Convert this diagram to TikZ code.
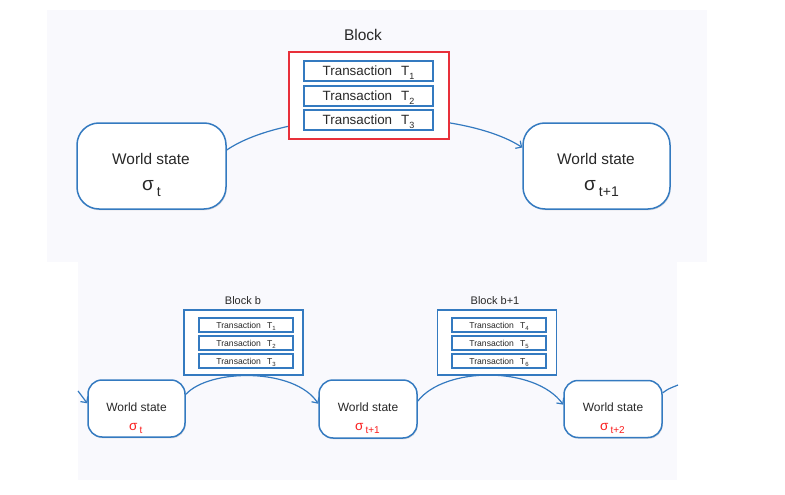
\documentclass[tikz,border=0pt]{standalone}
\usepackage{fontspec}
\setmainfont{Liberation Sans}
\usetikzlibrary{arrows.meta,shadows}
\definecolor{wsblue}{RGB}{52,122,192}
\definecolor{blockred}{RGB}{232,48,58}
\definecolor{sigred}{RGB}{250,30,30}
\definecolor{panelbg}{RGB}{249,249,253}
\definecolor{txtcol}{RGB}{40,40,40}
\newcommand{\fs}[1]{\fontsize{#1}{#1}\selectfont}
\tikzset{
  shad/.style={drop shadow={opacity=0.22, shadow xshift=0.8pt, shadow yshift=-1.3pt}},
  bigws/.style={draw=wsblue, line width=1.5pt, fill=white, rounded corners=22pt, inner sep=0pt, shad},
  smallws/.style={draw=wsblue, line width=1.5pt, fill=white, rounded corners=14pt, inner sep=0pt, shad},
  redblock/.style={draw=blockred, line width=1.8pt, fill=white, inner sep=0pt, minimum width=160pt, minimum height=87pt, shad},
  blueblock/.style={draw=wsblue, line width=1.3pt, fill=white, inner sep=0pt, minimum width=119pt, minimum height=65pt},
  bigtx/.style={draw=wsblue, line width=1.7pt, fill=white, inner sep=0pt, minimum width=129pt, minimum height=20pt, text height=9.6pt, text depth=0pt, text=txtcol, font=\fs{13.4}, shad},
  smalltx/.style={draw=wsblue, line width=1.3pt, fill=white, inner sep=0pt, minimum width=94pt, minimum height=14pt, text height=6.2pt, text depth=0pt, text=txtcol, font=\fs{8.6}},
  lbl/.style={inner sep=0pt, text=txtcol},
  conn/.style={draw=wsblue, line width=1.2pt, -{Straight Barb[length=4.5pt,width=9pt]}},
  plainconn/.style={draw=wsblue, line width=1.2pt}
}
\newcommand{\bigT}[1]{Transaction\hspace{9pt}T\raisebox{-4pt}{\fs{9}#1}}
\newcommand{\smallT}[1]{Transaction\hspace{6pt}T\raisebox{-2.5pt}{\fs{6}#1}}
\begin{document}
\begin{tikzpicture}[x=1pt,y=-1pt]
\useasboundingbox (0,0) rectangle (785,495);
\fill[panelbg] (47,10) rectangle (707,262);
\fill[panelbg] (78,262) rectangle (677,480);

% ---------- top diagram ----------
\node[bigws, minimum width=149pt, minimum height=86pt] (tws1) at (151.5,166) {};
\node[bigws, minimum width=147pt, minimum height=86pt] (tws2) at (596.5,166) {};
\node[lbl, anchor=base, font=\fs{15.4}] (tws1t) at (151,164) {World state};
\node[lbl, anchor=base west] (tws1s) at (142,190) {{\fs{19}σ}\hspace{3pt}\raisebox{-6pt}{\fs{14}t}};
\node[lbl, anchor=base, font=\fs{15.4}] (tws2t) at (596,164) {World state};
\node[lbl, anchor=base west] (tws2s) at (584,190) {{\fs{19}σ}\hspace{3pt}\raisebox{-6pt}{\fs{14}t+1}};

\draw[conn] (tws1.12) .. controls (290,107) and (460,107) .. (tws2.166);

\node[lbl, anchor=base, font=\fs{15.5}] (blk) at (363,41) {Block};
\node[redblock] (rb) at (369,95.5) {};
\node[bigtx] (tx1) at (368.5,71) {\bigT{1}};
\node[bigtx] (tx2) at (368.5,96) {\bigT{2}};
\node[bigtx] (tx3) at (368.5,120) {\bigT{3}};

% ---------- bottom diagram ----------
\node[smallws, minimum width=97pt, minimum height=57pt] (b1) at (136.5,408.5) {};
\node[smallws, minimum width=98pt, minimum height=58pt] (b2) at (368,409) {};
\node[smallws, minimum width=98pt, minimum height=57pt] (b3) at (613,409) {};
\node[lbl, anchor=base, font=\fs{12}] (b1t) at (136.5,411) {World state};
\node[lbl, anchor=base, font=\fs{12}] (b2t) at (368,411) {World state};
\node[lbl, anchor=base, font=\fs{12}] (b3t) at (613,411) {World state};
\node[lbl, anchor=base west, text=sigred] (b1s) at (129,430) {{\fs{13.5}σ}\hspace{2pt}\raisebox{-3.5pt}{\fs{10}t}};
\node[lbl, anchor=base west, text=sigred] (b2s) at (355,430) {{\fs{13.5}σ}\hspace{2pt}\raisebox{-3.5pt}{\fs{10}t+1}};
\node[lbl, anchor=base west, text=sigred] (b3s) at (600,430) {{\fs{13.5}σ}\hspace{2pt}\raisebox{-3.5pt}{\fs{10}t+2}};

\coordinate (inpt) at (78,391);
\coordinate (outpt) at (678,385);
\draw[conn] (inpt) .. controls (82,396) .. (b1.174);
\draw[conn] (b1.16) .. controls (210,368) and (295,368) .. (b2.174);
\draw[conn] (b2.9) .. controls (445,366) and (535,366) .. (b3.175);
\draw[plainconn] (b3.18) .. controls (668,389) .. (outpt);

\node[lbl, anchor=base, font=\fs{11}] (blkb) at (243,304) {Block b};
\node[blueblock] (bb) at (243.5,342.5) {};
\node[smalltx] (s1) at (246,325) {\smallT{1}};
\node[smalltx] (s2) at (246,343) {\smallT{2}};
\node[smalltx] (s3) at (246,361) {\smallT{3}};

\node[lbl, anchor=base, font=\fs{11}] (blkb1) at (495,304) {Block b+1};
\node[blueblock] (bb1) at (497,342.5) {};
\node[smalltx] (s4) at (499,325) {\smallT{4}};
\node[smalltx] (s5) at (499,343) {\smallT{5}};
\node[smalltx] (s6) at (499,361) {\smallT{6}};
\end{tikzpicture}
\end{document}
